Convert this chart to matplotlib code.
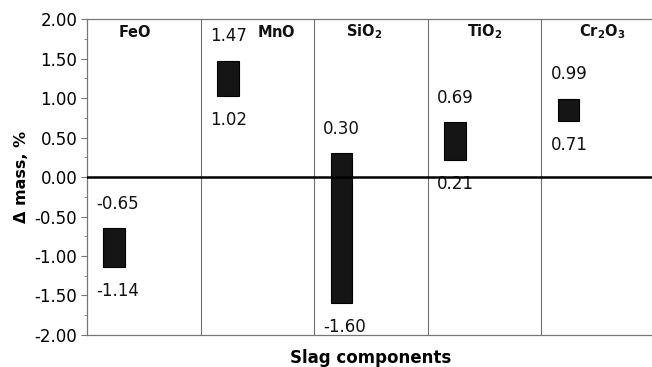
import matplotlib
matplotlib.use("Agg")
import matplotlib.pyplot as plt
import numpy as np
from matplotlib.ticker import MultipleLocator

plt.rcParams['font.family'] = ['DejaVu Sans']
plt.rcParams['mathtext.fontset'] = 'custom'
plt.rcParams['mathtext.rm'] = 'DejaVu Sans'
plt.rcParams['mathtext.bf'] = 'DejaVu Sans:bold'

categories = [r'$\mathbf{FeO}$', r'$\mathbf{MnO}$', r'$\mathbf{SiO_2}$',
              r'$\mathbf{TiO_2}$', r'$\mathbf{Cr_2O_3}$']
high_values = [-0.65, 1.47, 0.30, 0.69, 0.99]
low_values = [-1.14, 1.02, -1.60, 0.21, 0.71]
yticks = [-2.0, -1.5, -1.0, -0.5, 0.0, 0.5, 1.0, 1.5, 2.0]

fig = plt.figure(figsize=(6.52, 3.67), dpi=100)
ax = fig.add_axes([0.1334, 0.0872, 0.871, 0.8610])

n = len(categories)
x = np.arange(n)
bar_off = -0.26
bar_w = 0.19
heights = [h - l for h, l in zip(high_values, low_values)]
ax.bar(x + bar_off, heights, bottom=low_values, width=bar_w,
       color='#151515', edgecolor='black', linewidth=0.8, zorder=3)

# value labels
for xi, h, l in zip(x, high_values, low_values):
    ax.text(xi - 0.42, h + 0.31, f'{h:.2f}', ha='left', va='center',
            fontsize=12, color='#111111')
    ax.text(xi - 0.42, l - 0.30, f'{l:.2f}', ha='left', va='center',
            fontsize=12, color='#111111')

# category labels
cat_off = [-0.08, 0.17, -0.06, 0.0, 0.04]
for xi, c, o in zip(x, categories, cat_off):
    ax.text(xi + o, 1.84, c, ha='center', va='center', fontsize=10.5,
            color='#111111')

# column separators
for b in np.arange(0.5, n - 0.5, 1.0):
    ax.axvline(b, color='#707070', linewidth=0.8, zorder=1)
ax.axhline(0, color='black', linewidth=1.8, zorder=4)

ax.set_xlim(-0.5, n - 0.5)
ax.set_ylim(-2.0, 2.0)
ax.set_yticks(yticks)
ax.set_yticklabels([f'{v:.2f}' for v in yticks], fontsize=12)
ax.yaxis.set_minor_locator(MultipleLocator(0.25))
ax.tick_params(axis='y', which='major', length=4, color='#777777', pad=3)
ax.tick_params(axis='y', which='minor', length=2, color='#777777')
ax.set_xticks([])

for s in ['left', 'bottom', 'top']:
    ax.spines[s].set_color('#777777')
    ax.spines[s].set_linewidth(0.9)
ax.spines['top'].set_linestyle((0, (2, 1)))
ax.spines['bottom'].set_linestyle((0, (2, 1)))
ax.spines['right'].set_visible(False)

ax.set_ylabel('Δ mass, %', fontsize=11.5, fontweight='bold', labelpad=4)
ax.set_xlabel('Slag components', fontsize=12, fontweight='bold', labelpad=10)

fig.savefig('out.png', dpi=100)
